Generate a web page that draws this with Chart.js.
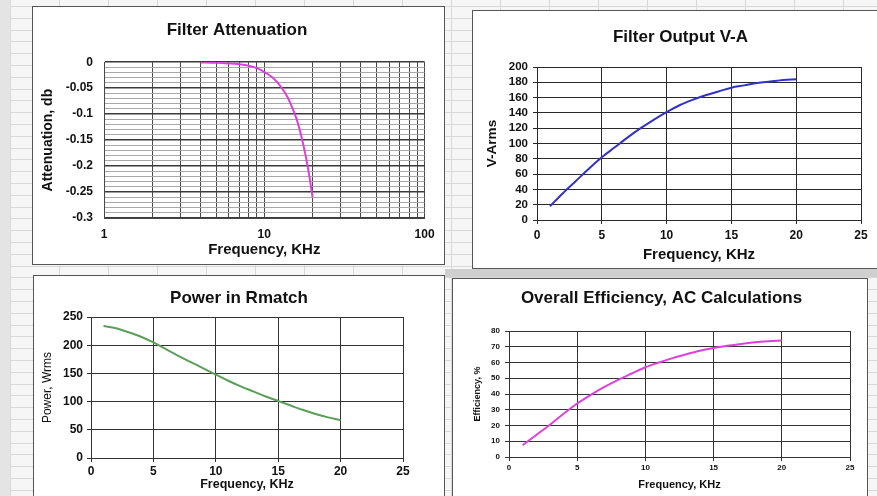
<!DOCTYPE html>
<html><head><meta charset="utf-8">
<script src="https://cdn.jsdelivr.net/npm/chart.js@4.4.1/dist/chart.umd.min.js"></script>
<style>
html,body{margin:0;padding:0;}
body{width:877px;height:496px;overflow:hidden;position:relative;background-color:#f6f6f6;
background-image:repeating-linear-gradient(to bottom, transparent 0, transparent 6px, #d9d9d9 6px, #d9d9d9 7px, transparent 7px, transparent 11.8px),
repeating-linear-gradient(to right, transparent 0, transparent 10px, #d9d9d9 10px, #d9d9d9 11px, transparent 11px, transparent 49px);
font-family:"Liberation Sans",Arial,sans-serif;}
.box{position:absolute;background:#fff;border:1px solid #555;}
.box canvas{display:block;}
.band{position:absolute;left:445px;top:269px;width:432px;height:8px;background:#cfcfcf;}
.strip{position:absolute;left:0;top:0;width:10px;height:496px;background:#e4e4e4;}
</style></head>
<body>
<div class="strip"></div>
<div class="band"></div>
<div class="box" style="left:32px;top:6px;"><canvas id="c1" width="411" height="257"></canvas></div>
<div class="box" style="left:472px;top:10px;"><canvas id="c2" width="416" height="257"></canvas></div>
<div class="box" style="left:33px;top:275px;"><canvas id="c3" width="410" height="230"></canvas></div>
<div class="box" style="left:452px;top:278px;"><canvas id="c4" width="414" height="230"></canvas></div>
<script>
// ---- data ----
const freq = [1,2,3,4,5,6,7,8,9,10,11,12,13,14,15,16,17,18,19,20];
const attFreq = [4,5,6,7,8,9,10,11,12,13,14,15,16,17,18,19,20];
const attenuation = [-0.0005,-0.0012,-0.0024,-0.004,-0.0068,-0.0115,-0.019,-0.027,-0.038,-0.052,-0.068,-0.089,-0.112,-0.142,-0.176,-0.215,-0.26];
const vArms = [18,35,51,67,82,95,108,120,131,141,150,157,163,168,173,176,179,181,183,184];
const powerWrms = [234,230,223,215,205,193,181,170,159,148,137,127,118,109,101,93,85,78,72,67];
const efficiency = [7.5,14,20.5,27.5,34,39.5,44.5,49,53,57,60,62.8,65.2,67.4,69.2,70.6,71.8,72.8,73.5,74];
const logTicks = [1,2,3,4,5,6,7,8,9,10,20,30,40,50,60,70,80,90,100];
const logLabels = [1,10,100];
const attLabels = [0,-0.05,-0.1,-0.15,-0.2,-0.25,-0.3];

const F = "'Liberation Sans', Arial, sans-serif";
const TXT = '#111';
function pts(xs, ys){ return xs.map((x,i)=>({x:x, y:ys[i]})); }
function font(size, weight){ return {family:F, size:size, weight:weight||'bold'}; }
function isMajor(v){ return attLabels.some(a=>Math.abs(a-v)<1e-9); }
function dummyRight(w){
  return {position:'right', display:true, grid:{display:false, drawTicks:false}, border:{display:false},
    ticks:{display:false}, afterFit:s=>{s.width=w;}};
}
const base = {responsive:false, animation:false, devicePixelRatio:1, events:[]};

// ---- Chart 1: Filter Attenuation ----
new Chart(document.getElementById('c1'), {
  type:'line',
  data:{datasets:[{data:pts(attFreq, attenuation), borderColor:'#dd40dd', borderWidth:2, pointRadius:0, cubicInterpolationMode:'monotone', fill:false}]},
  options:Object.assign({}, base, {
    layout:{padding:{left:4,right:7,top:0,bottom:4}},
    plugins:{legend:{display:false}, tooltip:{enabled:false},
      title:{display:true, text:'Filter Attenuation', color:TXT, font:font(17), padding:{top:13.4,bottom:21.4}}},
    scales:{
      x:{type:'logarithmic', min:1, max:100,
        afterBuildTicks:s=>{ s.ticks = logTicks.map(v=>({value:v})); },
        ticks:{autoSkip:false, maxRotation:0, padding:9.4, color:TXT, font:font(12),
          callback:v=> logLabels.includes(v) ? String(v) : ''},
        grid:{color:'#484848', drawTicks:false}, border:{color:'#484848'},
        title:{display:true, text:'Frequency, KHz', color:TXT, font:font(15), padding:{top:0,bottom:1.4}},
        afterFit:s=>{s.height=42;}},
      y:{min:-0.3, max:0,
        afterBuildTicks:s=>{ const t=[]; for(let i=0;i<=30;i++) t.push({value:-i/100}); s.ticks=t; },
        ticks:{autoSkip:false, padding:11, color:TXT, font:font(12),
          callback:v=> isMajor(v) ? String(Math.round(v*100)/100) : ''},
        grid:{drawTicks:false, color:c=> (c.tick && isMajor(c.tick.value)) ? '#3a3a3a' : '#a8a8a8',
          lineWidth:c=> (c.tick && isMajor(c.tick.value)) ? 1.5 : 1},
        border:{color:'#484848'},
        title:{display:true, text:'Attenuation, db', color:TXT, font:font(14), padding:{top:3}},
        afterFit:s=>{s.width=67;}},
      yR:dummyRight(10)
    }
  })
});

// ---- Chart 2: Filter Output V-A ----
new Chart(document.getElementById('c2'), {
  type:'line',
  data:{datasets:[{data:pts(freq, vArms), borderColor:'#3232c4', borderWidth:2, pointRadius:0, cubicInterpolationMode:'monotone', fill:false}]},
  options:Object.assign({}, base, {
    layout:{padding:{left:4,right:5,top:4,bottom:4}},
    plugins:{legend:{display:false}, tooltip:{enabled:false},
      title:{display:true, text:'Filter Output V-A', color:TXT, font:font(17), padding:{top:11.8,bottom:19.8}}},
    scales:{
      x:{type:'linear', min:0, max:25,
        ticks:{stepSize:5, maxRotation:0, padding:4.8, color:TXT, font:font(12)},
        grid:{color:'#2a2a2a', tickLength:4}, border:{color:'#2a2a2a'},
        title:{display:true, text:'Frequency, KHz', color:TXT, font:font(15), padding:{top:0,bottom:0.4}},
        afterFit:s=>{s.height=44;}},
      y:{min:0, max:200,
        ticks:{stepSize:20, autoSkip:false, padding:5, color:TXT, font:font(11.5)},
        grid:{color:'#2a2a2a', tickLength:4}, border:{color:'#2a2a2a'},
        title:{display:true, text:'V-Arms', color:TXT, font:font(13.5), padding:{top:7}},
        afterFit:s=>{s.width=60;}},
      yR:dummyRight(23)
    }
  })
});

// ---- Chart 3: Power in Rmatch ----
new Chart(document.getElementById('c3'), {
  type:'line',
  data:{datasets:[{data:pts(freq, powerWrms), borderColor:'#5a9f5a', borderWidth:2, pointRadius:0, cubicInterpolationMode:'monotone', fill:false}]},
  options:Object.assign({}, base, {
    layout:{padding:{left:4,right:4,top:0,bottom:4}},
    plugins:{legend:{display:false}, tooltip:{enabled:false},
      title:{display:true, text:'Power in Rmatch', color:TXT, font:font(17), padding:{top:11.8,bottom:8.8}}},
    scales:{
      x:{type:'linear', min:0, max:25,
        ticks:{stepSize:5, maxRotation:0, padding:2.8, color:TXT, font:font(12)},
        grid:{color:'#333', tickLength:4}, border:{color:'#333'},
        title:{display:true, text:'Frequency, KHz', color:TXT, font:font(12.5), padding:{top:0,bottom:9.6}},
        afterFit:s=>{s.height=44;}},
      y:{min:0, max:250,
        ticks:{stepSize:50, autoSkip:false, padding:4, color:TXT, font:font(12)},
        grid:{color:'#333', tickLength:4}, border:{color:'#333'},
        title:{display:true, text:'Power, Wrms', color:TXT, font:font(12,'normal'), padding:{top:2.8}},
        afterFit:s=>{s.width=53;}},
      yR:dummyRight(37)
    }
  })
});

// ---- Chart 4: Overall Efficiency ----
new Chart(document.getElementById('c4'), {
  type:'line',
  data:{datasets:[{data:pts(freq, efficiency), borderColor:'#dd40dd', borderWidth:2, pointRadius:0, cubicInterpolationMode:'monotone', fill:false}]},
  options:Object.assign({}, base, {
    layout:{padding:{left:4,right:1,top:0,bottom:4}},
    plugins:{legend:{display:false}, tooltip:{enabled:false},
      title:{display:true, text:'Overall Efficiency, AC Calculations', color:TXT, font:font(17), padding:{top:8.8,bottom:22.8}}},
    scales:{
      x:{type:'linear', min:0, max:25,
        ticks:{stepSize:5, maxRotation:0, padding:2.2, color:TXT, font:font(8)},
        grid:{color:'#333', tickLength:4}, border:{color:'#333'},
        title:{display:true, text:'Frequency, KHz', color:TXT, font:font(11), padding:{top:0,bottom:13.4}},
        afterFit:s=>{s.height=48;}},
      y:{min:0, max:80,
        ticks:{stepSize:10, autoSkip:false, padding:5, color:TXT, font:font(8)},
        grid:{color:'#333', tickLength:4}, border:{color:'#333'},
        title:{display:true, text:'Efficiency, %', color:TXT, font:font(9), padding:{top:15.3}},
        afterFit:s=>{s.width=52;}},
      yR:dummyRight(16)
    }
  })
});
</script>
</body></html>
